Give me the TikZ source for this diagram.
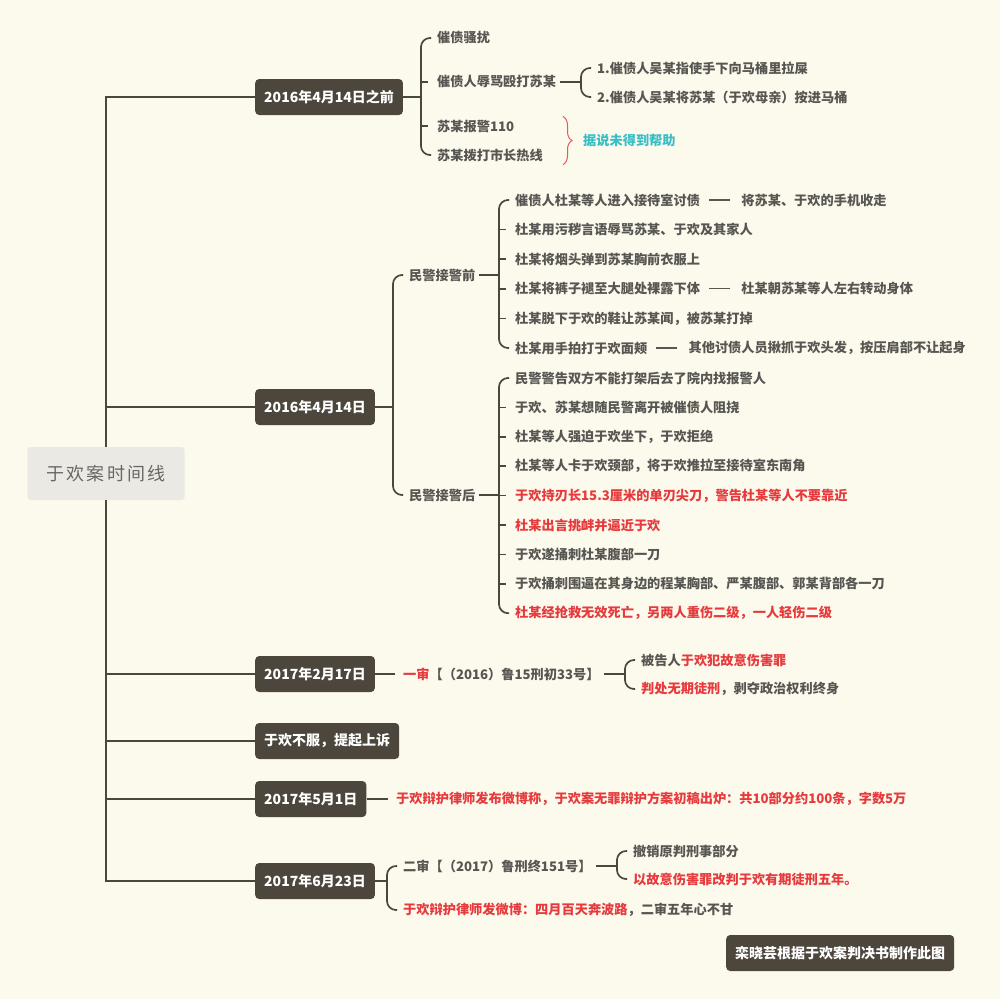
\documentclass[tikz,border=0pt]{standalone}
\usepackage{fontspec}
\setmainfont{Noto Sans CJK SC}
\usetikzlibrary{positioning,decorations.pathreplacing}

\definecolor{bgcol}{RGB}{252,249,237}
\definecolor{inkcol}{RGB}{76,70,61}
\definecolor{txtcol}{RGB}{88,86,82}
\definecolor{redcol}{RGB}{230,58,60}
\definecolor{cyancol}{RGB}{56,190,196}
\definecolor{rootcol}{RGB}{234,233,227}

% bracket from a parent to its first and last child
\newcommand\bracket[3]{%
  \coordinate (#1-b) at ([xshift=-12pt]#2.west);
  \draw[link] (#1.east) -- (#1.east -| #1-b);
  \draw[link, rounded corners=9pt] ([xshift=-2pt]#2.west) -- (#2.west -| #1-b)
    -- (#3.west -| #1-b) -- ([xshift=-2pt]#3.west);
}

\begin{document}
\begin{tikzpicture}[x=1pt,y=-1pt,
    link/.style={draw=inkcol, line width=1.7pt},
    trunk/.style={draw=inkcol, line width=2.5pt},
    dashlink/.style={draw=txtcol, line width=1.2pt, shorten <=5pt, shorten >=7pt},
    redbrace/.style={draw=redcol!85, line width=1pt, decorate, decoration={brace, amplitude=9pt}},
    datebox/.style={fill=inkcol, text=white, rounded corners=4pt, anchor=west,
        minimum height=36pt, inner xsep=9pt, font=\fontsize{14}{14}\selectfont\bfseries},
    leaf/.style={anchor=west, inner xsep=4pt, inner ysep=3pt, text=txtcol,
        font=\fontsize{13.2}{13.2}\selectfont\bfseries},
    rootbox/.style={fill=rootcol, rounded corners=3pt, minimum width=157pt,
        minimum height=53pt, text=txtcol!90!white, font=\fontsize{18}{18}\selectfont}]

    \fill[bgcol] (0,0) rectangle (1000,999);
    \useasboundingbox (0,0) rectangle (1000,999);

    % root and dates
    \node[rootbox] (root) at (106,473.5) {\addfontfeature{LetterSpace=12}于欢案时间线};
    \node[datebox] (d1) at (255,97) {2016年4月14日之前};
    \node[datebox] (d2) at (255,407) {2016年4月14日};
    \node[datebox] (d3) at (255,674) {2017年2月17日};
    \node[datebox] (d4) at (255,741) {于欢不服，提起上诉};
    \node[datebox] (d5) at (255,799) {2017年5月1日};
    \node[datebox] (d6) at (255,881) {2017年6月23日};
    \node[datebox] (credit) at (726,953) {栾晓芸根据于欢案判决书制作此图};

    \draw[trunk] (root.north) |- (d1.west);
    \draw[trunk] (root.south) |- (d6.west);
    \foreach \d in {d2,d3,d4,d5}{
        \draw[trunk] (\d.west -| root.north) -- (\d.west);
    }

    % 2016年4月14日之前
    \node[leaf] (a1) at (433,38) {催债骚扰};
    \node[leaf] (a2) at (433,82) {催债人辱骂殴打苏某};
    \node[leaf] (a3) at (433,126) {苏某报警110};
    \node[leaf] (a4) at (433,155) {苏某拨打市长热线};
    \bracket{d1}{a1}{a4}
    \foreach \m in {a2,a3}{
        \draw[link] (\m.west -| d1-b) -- ([xshift=-5pt]\m.west);
    }
    \node[leaf] (a21) at (593,68) {1.催债人吴某指使手下向马桶里拉屎};
    \node[leaf] (a22) at (593,97) {2.催债人吴某将苏某（于欢母亲）按进马桶};
    \bracket{a2}{a21}{a22}
    \node[leaf, text=cyancol] (note) at (579,141) {据说未得到帮助};
    \coordinate (note-b) at ([xshift=-16pt]note.west);
    \draw[redbrace] (note-b |- a3.north) -- (note-b |- a4.south);

    % 2016年4月14日
    \node[leaf] (b1) at (405,275) {民警接警前};
    \node[leaf] (b2) at (405,495) {民警接警后};
    \bracket{d2}{b1}{b2}

    \foreach \t [count=\i] in {催债人杜某等人进入接待室讨债,
        杜某用污秽言语辱骂苏某、于欢及其家人,
        杜某将烟头弹到苏某胸前衣服上,
        杜某将裤子褪至大腿处裸露下体,
        杜某脱下于欢的鞋让苏某闻，被苏某打掉,
        杜某用手拍打于欢面颊}{
        \node[leaf] (p\i) at (511,200+29.6*\i-29.6) {\t};
    }
    \node[leaf, right=33pt of p1] (p1x) {将苏某、于欢的手机收走};
    \node[leaf, right=33pt of p4] (p4x) {杜某朝苏某等人左右转动身体};
    \node[leaf, right=33pt of p6] (p6x) {其他讨债人员揪抓于欢头发，按压肩部不让起身};
    \foreach \i in {1,4,6}{
        \draw[dashlink] (p\i.east) -- (p\i x.west);
    }
    \bracket{b1}{p1}{p6}
    \foreach \i in {2,...,5}{
        \draw[link] (p\i.west -| b1-b) -- ([xshift=-5pt]p\i.west);
    }

    \foreach \t [count=\i] in {民警警告双方不能打架后去了院内找报警人,
        于欢、苏某想随民警离开被催债人阻挠,
        杜某等人强迫于欢坐下，于欢拒绝,
        杜某等人卡于欢颈部，将于欢推拉至接待室东南角,
        \color{redcol}于欢持刃长15.3厘米的单刃尖刀，警告杜某等人不要靠近,
        \color{redcol}杜某出言挑衅并逼近于欢,
        于欢遂捅刺杜某腹部一刀,
        于欢捅刺围逼在其身边的程某胸部、严某腹部、郭某背部各一刀,
        \color{redcol}杜某经抢救无效死亡，另两人重伤二级，一人轻伤二级}{
        \node[leaf] (q\i) at (511,378+29.4*\i-29.4) {\t};
    }
    \bracket{b2}{q1}{q9}
    \foreach \i in {2,...,8}{
        \draw[link] (q\i.west -| b2-b) -- ([xshift=-5pt]q\i.west);
    }

    % 2017年2月17日
    \node[leaf] (c1) at (399,674) {\textcolor{redcol}{一审}【（2016）鲁15刑初33号】};
    \draw[link, shorten >=4pt] (d3) -- (c1);
    \node[leaf] (c11) at (637,660) {被告人\textcolor{redcol}{于欢犯故意伤害罪}};
    \node[leaf] (c12) at (637,689) {\textcolor{redcol}{判处无期徒刑}，剥夺政治权利终身};
    \bracket{c1}{c11}{c12}

    % 2017年5月1日
    \node[leaf, text=redcol] (e1) at (392,799) {于欢辩护律师发布微博称，于欢案无罪辩护方案初稿出炉：共10部分约100条，字数5万};
    \draw[link, shorten >=4pt] (d5) -- (e1);

    % 2017年6月23日
    \node[leaf] (f1) at (399,866) {二审【（2017）鲁刑终151号】};
    \node[leaf] (f2) at (399,910) {\textcolor{redcol}{于欢辩护律师发微博：四月百天奔波路}，二审五年心不甘};
    \bracket{d6}{f1}{f2}
    \node[leaf] (f11) at (629,851) {撤销原判刑事部分};
    \node[leaf, text=redcol] (f12) at (629,879) {以故意伤害罪改判于欢有期徒刑五年。};
    \bracket{f1}{f11}{f12}
\end{tikzpicture}
\end{document}
